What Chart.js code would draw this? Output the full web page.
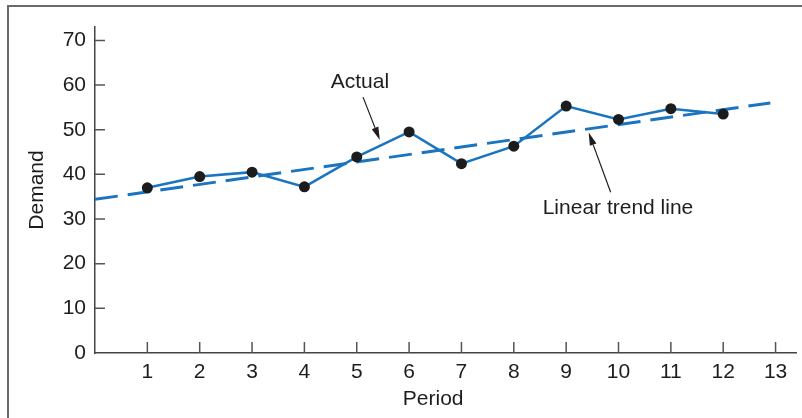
<!DOCTYPE html>
<html>
<head>
<meta charset="utf-8">
<script src="https://cdn.jsdelivr.net/npm/chart.js@4/dist/chart.umd.min.js"></script>
<style>
  html, body { margin: 0; padding: 0; background: #fff; }
  #wrap { position: relative; width: 802px; height: 418px; overflow: hidden; }
  #frame {
    position: absolute; left: 7px; top: 5px; right: 0; bottom: 0;
    border-top: 2px solid #6a6a6a; border-left: 2px solid #6a6a6a;
  }
  canvas { position: absolute; left: 0; top: 0; }
</style>
</head>
<body>
<div id="wrap">
  <div id="frame"></div>
  <canvas id="demandChart" width="802" height="418"></canvas>
</div>
<script>
// 每期需求
const periods = [1, 2, 3, 4, 5, 6, 7, 8, 9, 10, 11, 12];
const demand = [37.0, 39.5, 40.5, 37.2, 43.9, 49.5, 42.4, 46.3, 55.3, 52.3, 54.7, 53.5];
// 線性趨勢線兩端
const trendPeriods = [0, 12.9];
const trendValues = [34.4, 56.0];
// 軸標籤
const xTickValues = [1, 2, 3, 4, 5, 6, 7, 8, 9, 10, 11, 12, 13];
const yTickValues = [0, 10, 20, 30, 40, 50, 60, 70];

const blue = "#1a74bf";
const ink = "#1f1c1d";
const font = { family: "'Liberation Sans', Arial, sans-serif", size: 21 };

const actualPoints = periods.map((p, i) => ({ x: p, y: demand[i] }));
const trendPoints = trendPeriods.map((p, i) => ({ x: p, y: trendValues[i] }));

// 標註文字與箭頭 (資料座標)
const notes = [
  { text: "Actual", at: [5.06, 60.7], from: [5.12, 57.3], to: [5.44, 47.7] },
  { text: "Linear trend line", at: [9.99, 32.5], from: [9.85, 36.0], to: [9.43, 49.4] },
];

// 刻度線畫在軸內側
const innerTicks = {
  id: "innerTicks",
  beforeDatasetsDraw(chart) {
    const { ctx, chartArea, scales: { x, y } } = chart;
    ctx.save();
    ctx.strokeStyle = "#555";
    ctx.lineWidth = 1.5;
    ctx.beginPath();
    xTickValues.forEach((v) => {
      const px = x.getPixelForValue(v);
      ctx.moveTo(px, chartArea.bottom);
      ctx.lineTo(px, chartArea.bottom - 11);
    });
    yTickValues.forEach((v) => {
      if (v === 0) return;
      const py = y.getPixelForValue(v);
      ctx.moveTo(chartArea.left, py);
      ctx.lineTo(chartArea.left + 10, py);
    });
    ctx.stroke();
    ctx.restore();
  },
};

const annotations = {
  id: "annotations",
  afterDraw(chart) {
    const { ctx, chartArea, scales: { x, y } } = chart;
    ctx.save();
    ctx.fillStyle = ink;
    ctx.strokeStyle = ink;
    ctx.font = `${font.size}px ${font.family}`;
    ctx.textAlign = "center";
    ctx.textBaseline = "middle";
    notes.forEach((n) => {
      ctx.fillText(n.text, x.getPixelForValue(n.at[0]), y.getPixelForValue(n.at[1]));
      const x1 = x.getPixelForValue(n.from[0]);
      const y1 = y.getPixelForValue(n.from[1]);
      const x2 = x.getPixelForValue(n.to[0]);
      const y2 = y.getPixelForValue(n.to[1]);
      const ang = Math.atan2(y2 - y1, x2 - x1);
      const len = 13;
      const half = 3.5;
      const bx = x2 - len * Math.cos(ang);
      const by = y2 - len * Math.sin(ang);
      ctx.lineWidth = 1.2;
      ctx.beginPath();
      ctx.moveTo(x1, y1);
      ctx.lineTo(bx, by);
      ctx.stroke();
      ctx.beginPath();
      ctx.moveTo(x2, y2);
      ctx.lineTo(bx + half * Math.sin(ang), by - half * Math.cos(ang));
      ctx.lineTo(bx - half * Math.sin(ang), by + half * Math.cos(ang));
      ctx.closePath();
      ctx.fill();
    });
    // X 軸標題
    ctx.fillText("Period", x.getPixelForValue(6.46), chartArea.bottom + 46);
    ctx.restore();
  },
};

const config = {
  type: "scatter",
  data: {
    datasets: [
      {
        label: "Actual",
        data: actualPoints,
        showLine: true,
        borderColor: blue,
        borderWidth: 2.5,
        pointRadius: 5.5,
        pointBackgroundColor: "#1c1c1c",
        pointBorderWidth: 0,
      },
      {
        label: "Linear trend line",
        data: trendPoints,
        showLine: true,
        borderColor: blue,
        borderWidth: 3,
        borderDash: [23, 10],
        pointRadius: 0,
      },
    ],
  },
  options: {
    responsive: false,
    animation: false,
    layout: { padding: { top: 27, right: 5, left: 0, bottom: 0 } },
    plugins: { legend: { display: false }, tooltip: { enabled: false } },
    scales: {
      x: {
        type: "linear",
        min: 0,
        max: 13.4,
        afterFit(s) { s.height = 65; },
        afterBuildTicks(s) { s.ticks = xTickValues.map((v) => ({ value: v })); },
        ticks: { font, color: ink, padding: 7, maxRotation: 0, autoSkip: false },
        grid: { drawOnChartArea: false, drawTicks: false },
        border: { color: "#444", width: 1.5 },
      },
      y: {
        type: "linear",
        min: 0,
        max: 73,
        afterFit(s) { s.width = 95; },
        afterBuildTicks(s) { s.ticks = yTickValues.map((v) => ({ value: v })); },
        ticks: { font, color: ink, padding: 9, autoSkip: false },
        grid: { drawOnChartArea: false, drawTicks: false },
        border: { color: "#444", width: 1.5 },
        title: { display: true, text: "Demand", font, color: ink, padding: { top: 25, bottom: 0 } },
      },
    },
  },
  plugins: [innerTicks, annotations],
};

const demandChart = new Chart(document.querySelector("#demandChart"), config);
</script>
</body>
</html>
